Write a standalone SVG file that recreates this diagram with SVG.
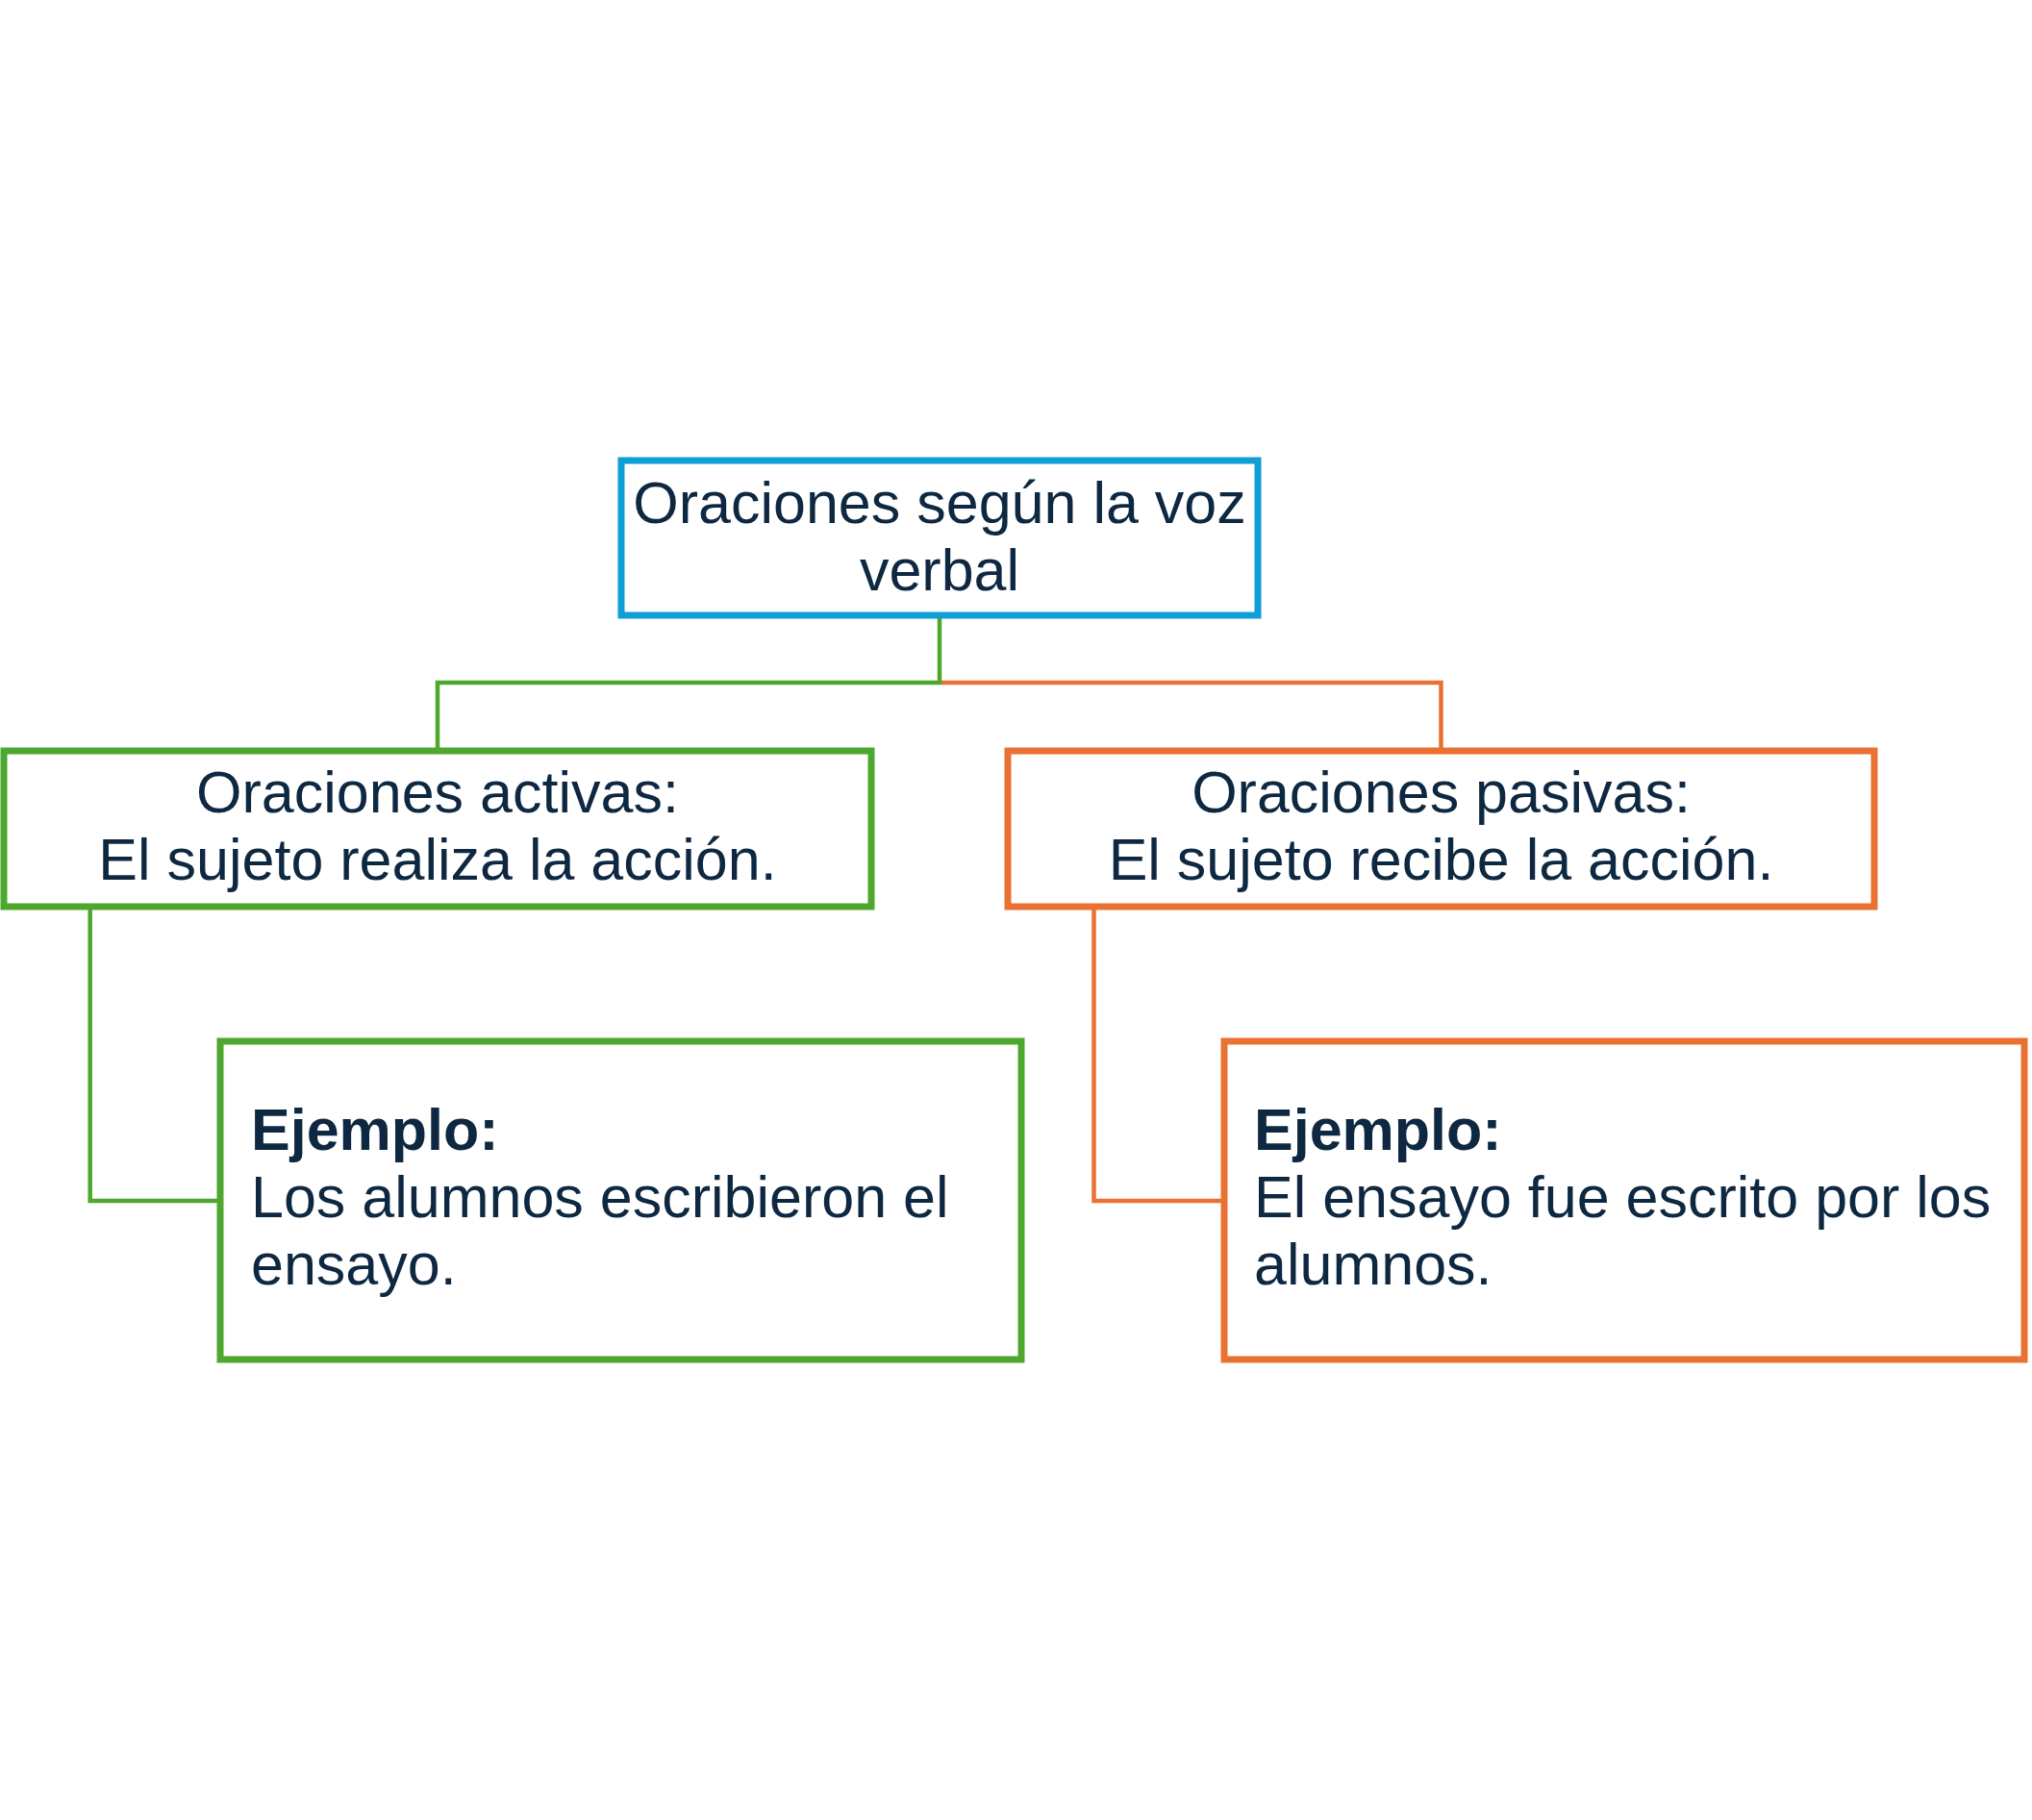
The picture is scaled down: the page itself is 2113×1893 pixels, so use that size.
<svg xmlns="http://www.w3.org/2000/svg" width="2113" height="1893" viewBox="0 0 2113 1893">
<style>
.box{fill:#FFFFFF;stroke-width:7}
.blue{stroke:#0F9ED5}
.green{stroke:#4EA72E}
.orange{stroke:#E97132}
.conn{fill:none;stroke-width:4.5}
text{font-family:"Liberation Sans",Arial,sans-serif;font-size:61px;fill:#0E2841}
.c{text-anchor:middle}
.b{font-weight:bold}
</style>
<rect width="2113" height="1893" fill="#FFFFFF"/>
<g id="connectors">
<path class="conn green" d="M977,643 V710 H455 V778"/>
<path class="conn orange" d="M979,710 H1498.5 V778"/>
<path class="conn green" d="M93.7,946 V1249 H226"/>
<path class="conn orange" d="M1137.5,946 V1249 H1270"/>
</g>
<g id="root">
<rect class="box blue" x="646" y="479" width="662" height="161"/>
<text class="c" x="977" y="544">Oraciones según la voz</text>
<text class="c" x="977" y="614">verbal</text>
</g>
<g id="activas">
<rect class="box green" x="4" y="781" width="902" height="162"/>
<text class="c" x="455" y="845">Oraciones activas:</text>
<text class="c" x="455" y="915">El sujeto realiza la acción.</text>
</g>
<g id="pasivas">
<rect class="box orange" x="1048" y="781" width="901" height="162"/>
<text class="c" x="1498.5" y="845">Oraciones pasivas:</text>
<text class="c" x="1498.5" y="915">El sujeto recibe la acción.</text>
</g>
<g id="ejemplo-activa">
<rect class="box green" x="229" y="1083" width="833" height="331"/>
<text class="b" x="261" y="1196">Ejemplo:</text>
<text x="261" y="1266">Los alumnos escribieron el</text>
<text x="261" y="1336">ensayo.</text>
</g>
<g id="ejemplo-pasiva">
<rect class="box orange" x="1273" y="1083" width="832" height="331"/>
<text class="b" x="1304" y="1196">Ejemplo:</text>
<text x="1304" y="1266">El ensayo fue escrito por los</text>
<text x="1304" y="1336">alumnos.</text>
</g>
</svg>
